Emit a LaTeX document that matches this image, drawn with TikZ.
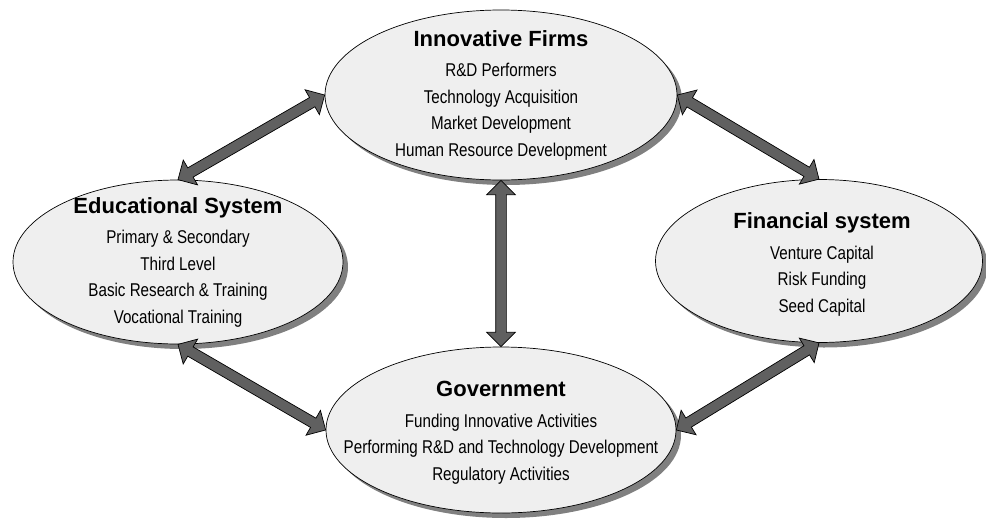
\documentclass[tikz,border=0pt]{standalone}
\usepackage{fontspec}
\setmainfont{Liberation Sans}
\newfontfamily\narrowfont{Liberation Sans}[FakeStretch=0.82]
\usetikzlibrary{shapes.geometric,shapes.arrows,shadows,calc}
\definecolor{ellfill}{HTML}{EFEFEF}
\definecolor{shade}{HTML}{808080}
\definecolor{arrfill}{HTML}{606060}
% block arrow between two anchors: name, from, to
\newcommand{\blockarrow}[3]{\path let \p1=($(#3)-(#2)$), \n1={atan2(\y1,\x1)}, \n2={veclen(\x1,\y1)} in node[dblarr,minimum height=\n2,rotate=\n1](#1) at ($(#2)!0.5!(#3)$) {};}
\begin{document}
\begin{tikzpicture}[x=1pt,y=-1pt]
\tikzstyle{ell}=[ellipse,draw,line width=0.7pt,fill=ellfill,inner sep=0pt,drop shadow={shadow xshift=5pt,shadow yshift=-5pt,fill=shade,opacity=1}]
\tikzstyle{txt}=[align=center,inner sep=0pt,font=\narrowfont\fontsize{18.5}{26.5}\selectfont]
\tikzstyle{dblarr}=[double arrow,draw,line width=0.7pt,fill=arrfill,inner sep=5pt,double arrow head extend=9pt,double arrow tip angle=90]
\newcommand{\ttl}[1]{{\normalfont\fontsize{22}{26.5}\selectfont\bfseries #1}\\[4pt]}
\useasboundingbox (0,0) rectangle (986,520);
\node[ell,minimum width=352pt,minimum height=170pt](firms) at (501,95) {};
\node[ell,minimum width=330pt,minimum height=164pt](edu) at (178,262) {};
\node[ell,minimum width=327pt,minimum height=163pt](fin) at (819,261) {};
\node[ell,minimum width=350pt,minimum height=166pt](gov) at (501,430) {};
\node[txt](firmstxt) at (firms) {\ttl{Innovative Firms}R\&D Performers\\Technology Acquisition\\Market Development\\Human Resource Development};
\node[txt](edutxt) at (edu) {\ttl{Educational System}Primary \& Secondary\\Third Level\\Basic Research \& Training\\Vocational Training};
\node[txt,xshift=3pt,yshift=-3.5pt](fintxt) at (fin) {\ttl{Financial system}Venture Capital\\Risk Funding\\Seed Capital};
\node[txt,yshift=-2.5pt](govtxt) at (gov) {\ttl{Government}Funding Innovative Activities\\Performing R\&D and Technology Development\\Regulatory Activities};
\blockarrow{a1}{edu.north}{firms.west}
\blockarrow{a2}{firms.east}{fin.north}
\blockarrow{a3}{firms.south}{gov.north}
\blockarrow{a4}{edu.south}{gov.west}
\blockarrow{a5}{gov.east}{fin.south}
\end{tikzpicture}
\end{document}
